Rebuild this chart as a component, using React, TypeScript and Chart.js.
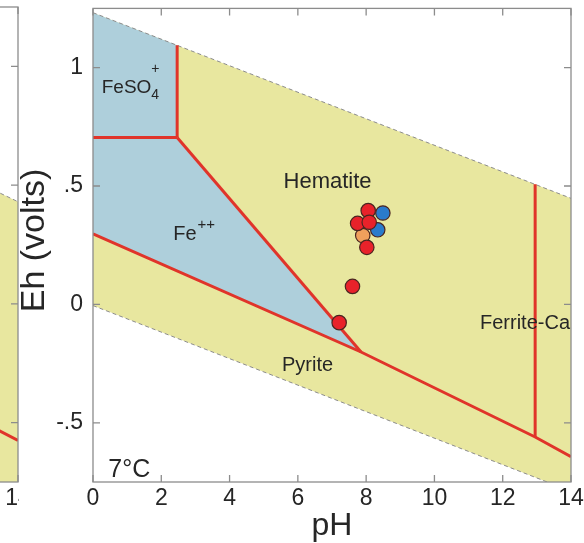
import React, { useEffect, useRef } from 'react';
import { Chart, registerables } from 'chart.js';

Chart.register(...registerables);

// ---------- data (pH, Eh in volts) ----------
const X_TICKS = [0, 2, 4, 6, 8, 10, 12, 14];
const Y_TICKS = [-0.5, 0, 0.5, 1];
const Y_TICK_LABELS = ['-.5', '0', '.5', '1'];

// water stability limits at 7°C (dashed)
const WATER_UPPER = [{ x: 0, y: 1.232 }, { x: 14, y: 0.448 }];
const WATER_LOWER = [{ x: 0, y: -0.005 }, { x: 14, y: -0.789 }];
// whole stability band
const BAND = [{ x: 0, y: 1.232 }, { x: 14, y: 0.448 }, { x: 14, y: -0.789 }, { x: 0, y: -0.005 }];
// aqueous fields (FeSO4+ and Fe++)
const AQUEOUS_FIELD = [
  { x: 0, y: 1.232 }, { x: 2.465, y: 1.094 }, { x: 2.465, y: 0.705 },
  { x: 7.85, y: -0.201 }, { x: 0, y: 0.298 },
];
// field boundaries
const B_FESO4_HEM = [{ x: 2.465, y: 1.094 }, { x: 2.465, y: 0.705 }];
const B_FESO4_FE = [{ x: 0, y: 0.705 }, { x: 2.465, y: 0.705 }];
const B_FE_HEM = [{ x: 2.465, y: 0.705 }, { x: 7.85, y: -0.201 }];
const B_PYRITE = [{ x: 0, y: 0.298 }, { x: 7.85, y: -0.201 }, { x: 12.95, y: -0.56 }, { x: 14, y: -0.643 }];
const B_FERRITE = [{ x: 12.95, y: 0.507 }, { x: 12.95, y: -0.56 }];

// samples
const SAMPLES_RED = [
  { x: 8.06, y: 0.396 }, { x: 7.75, y: 0.342 }, { x: 8.09, y: 0.347 },
  { x: 8.02, y: 0.241 }, { x: 7.6, y: 0.076 }, { x: 7.21, y: -0.077 },
];
const SAMPLES_BLUE = [{ x: 8.49, y: 0.386 }, { x: 8.34, y: 0.315 }];
const SAMPLES_ORANGE = [{ x: 7.9, y: 0.291 }];

// neighbouring panel (only its right edge is visible)
const LEFT_WATER_UPPER = [{ x: 0, y: 1.4 }, { x: 14, y: 0.43 }];
const LEFT_BAND = [{ x: 0, y: 1.4 }, { x: 14, y: 0.43 }, { x: 14, y: -1.0 }, { x: 0, y: -0.03 }];
const LEFT_BOUNDARY = [{ x: 12.5, y: -0.463 }, { x: 14, y: -0.575 }];

// field label anchors (text, pH, Eh)
const FIELD_LABELS = [
  { key: 'feso4', text: 'FeSO', sub: '4', sup: '+', x: 0.255, y: 0.892 },
  { key: 'fe', text: 'Fe', sup: '++', x: 2.35, y: 0.2725 },
  { key: 'hem', text: 'Hematite', x: 5.58, y: 0.49 },
  { key: 'pyr', text: 'Pyrite', x: 5.536, y: -0.282 },
  { key: 'ferr', text: 'Ferrite-Ca', x: 14, y: -0.105, align: 'right' },
  { key: 'temp', text: '7°C', x: 0.448, y: -0.727 },
];

// ---------- styles ----------
const FONT = '"Liberation Sans", Arial, Helvetica, sans-serif';
const YELLOW = '#e8e79f';
const BLUE = '#aecfdb';
const RED_LINE = '#e0342a';
const FRAME = '#8c8c8c';
const TEXT = '#262626';
const LABEL_STYLE: Record<string, any> = {
  feso4: { size: 19, subSize: 14, subDy: 6, supSize: 14, supDy: -20 },
  fe: { size: 20, supSize: 15, supDy: -11 },
  hem: { size: 22 },
  pyr: { size: 20 },
  ferr: { size: 20 },
  temp: { size: 25 },
};

const fillSet = (data: any[], color: string, order: number) => ({
  data, showLine: true, fill: 'shape', backgroundColor: color,
  borderColor: 'rgba(0,0,0,0)', borderWidth: 0, pointRadius: 0, order, clip: 0,
});
const dashSet = (data: any[], order: number) => ({
  data, showLine: true, fill: false, borderColor: FRAME, borderWidth: 1,
  borderDash: [4, 3], pointRadius: 0, order, clip: 0,
});
const redSet = (data: any[], order: number) => ({
  data, showLine: true, fill: false, borderColor: RED_LINE, borderWidth: 3,
  pointRadius: 0, order, clip: 0, borderJoinStyle: 'miter',
});
const pointSet = (data: any[], color: string, order: number) => ({
  data, showLine: false, backgroundColor: color, borderColor: '#4a2520',
  borderWidth: 1.2, pointRadius: 7.2, order,
});

const framePlugin = {
  id: 'matlabFrame',
  afterDraw(chart: any) {
    const { ctx, chartArea: a, scales } = chart;
    ctx.save();
    ctx.strokeStyle = FRAME;
    ctx.lineWidth = 1.3;
    ctx.strokeRect(a.left, a.top, a.right - a.left, a.bottom - a.top);
    const L = 7;
    ctx.beginPath();
    X_TICKS.forEach((v) => {
      const px = scales.x.getPixelForValue(v);
      ctx.moveTo(px, a.bottom); ctx.lineTo(px, a.bottom - L);
      ctx.moveTo(px, a.top); ctx.lineTo(px, a.top + L);
    });
    Y_TICKS.forEach((v) => {
      const py = scales.y.getPixelForValue(v);
      ctx.moveTo(a.left, py); ctx.lineTo(a.left + L, py);
      ctx.moveTo(a.right, py); ctx.lineTo(a.right - L, py);
    });
    ctx.stroke();
    ctx.restore();
  },
};

const labelPlugin = {
  id: 'fieldLabels',
  afterDatasetsDraw(chart: any, _args: any, opts: any) {
    if (!opts || !opts.show) return;
    const { ctx, scales } = chart;
    ctx.save();
    ctx.fillStyle = TEXT;
    ctx.textBaseline = 'alphabetic';
    ctx.textAlign = 'left';
    FIELD_LABELS.forEach((lab: any) => {
      const st = LABEL_STYLE[lab.key];
      const px = scales.x.getPixelForValue(lab.x);
      const py = scales.y.getPixelForValue(lab.y);
      ctx.font = `${st.size}px ${FONT}`;
      const w = ctx.measureText(lab.text).width;
      const x0 = lab.align === 'right' ? px - w - 1 : px;
      ctx.fillText(lab.text, x0, py);
      if (lab.sub) {
        ctx.font = `${st.subSize}px ${FONT}`;
        ctx.fillText(lab.sub, x0 + w, py + st.subDy);
      }
      if (lab.sup) {
        ctx.font = `${st.supSize}px ${FONT}`;
        ctx.fillText(lab.sup, x0 + w + (lab.sub ? 0 : 1), py + st.supDy);
      }
    });
    ctx.restore();
  },
};

function makeConfig(datasets: any[], showLabels: boolean): any {
  return {
    type: 'scatter',
    data: { datasets },
    plugins: [labelPlugin, framePlugin],
    options: {
      responsive: false,
      animation: false,
      events: [],
      layout: { padding: { left: 0, right: 13, top: 7, bottom: 0 } },
      plugins: {
        legend: { display: false },
        tooltip: { enabled: false },
        fieldLabels: { show: showLabels },
      },
      scales: {
        x: {
          type: 'linear', min: 0, max: 14,
          afterBuildTicks: (s: any) => { s.ticks = X_TICKS.map((v) => ({ value: v })); },
          afterFit: (s: any) => { s.height = 61; s.paddingLeft = 0; s.paddingRight = 0; },
          grid: { display: false, drawTicks: false },
          border: { display: false },
          ticks: {
            color: TEXT, padding: 3, maxRotation: 0, autoSkip: false,
            font: { family: FONT, size: 23, lineHeight: 1.2 },
            callback: (v: any) => String(v),
          },
          title: {
            display: true, text: 'pH', color: TEXT,
            font: { family: FONT, size: 32, lineHeight: 1 },
            padding: { top: 0, bottom: 1 },
          },
        },
        y: {
          type: 'linear', min: -0.75, max: 1.25,
          afterBuildTicks: (s: any) => { s.ticks = Y_TICKS.map((v) => ({ value: v })); },
          afterFit: (s: any) => { s.width = 93; s.paddingTop = 0; s.paddingBottom = 0; },
          grid: { display: false, drawTicks: false },
          border: { display: false },
          ticks: {
            color: TEXT, padding: 10, autoSkip: false,
            font: { family: FONT, size: 23, lineHeight: 1.2 },
            callback: (v: any) => {
              const i = Y_TICKS.indexOf(Number(v));
              return i >= 0 ? Y_TICK_LABELS[i] : '';
            },
          },
          title: {
            display: true, text: ' Eh (volts)', color: TEXT,
            font: { family: FONT, size: 34, lineHeight: 1 },
            padding: { top: 18, bottom: 0 },
          },
        },
      },
    },
  };
}

function mainDatasets() {
  return [
    fillSet(BAND, YELLOW, 20),
    fillSet(AQUEOUS_FIELD, BLUE, 19),
    dashSet(WATER_UPPER, 18),
    dashSet(WATER_LOWER, 17),
    redSet(B_FESO4_HEM, 12),
    redSet(B_FESO4_FE, 11),
    redSet(B_FE_HEM, 10),
    redSet(B_PYRITE, 9),
    redSet(B_FERRITE, 8),
    pointSet(SAMPLES_ORANGE, '#f0a05c', 3),
    pointSet(SAMPLES_BLUE, '#2a7bcb', 2),
    pointSet(SAMPLES_RED, '#e8222a', 1),
  ];
}

function leftDatasets() {
  return [
    fillSet(LEFT_BAND, YELLOW, 20),
    dashSet(LEFT_WATER_UPPER, 18),
    redSet(LEFT_BOUNDARY, 9),
  ];
}

export default function App() {
  const mainRef = useRef<HTMLCanvasElement>(null);
  const leftRef = useRef<HTMLCanvasElement>(null);

  useEffect(() => {
    const left = new Chart(leftRef.current as HTMLCanvasElement, makeConfig(leftDatasets(), false));
    const main = new Chart(mainRef.current as HTMLCanvasElement, makeConfig(mainDatasets(), true));
    return () => {
      left.destroy();
      main.destroy();
    };
  }, []);

  return (
    <div style={{ position: 'fixed', left: 0, top: 0, width: 584, height: 543, overflow: 'hidden', background: '#fff' }}>
      <div style={{ position: 'absolute', left: 0, top: 0, width: 19, height: 543, overflow: 'hidden' }}>
        <canvas ref={leftRef} width={584} height={543} style={{ position: 'absolute', left: -553, top: 0 }} />
      </div>
      <canvas ref={mainRef} width={584} height={543} style={{ position: 'absolute', left: 0, top: 0 }} />
    </div>
  );
}
